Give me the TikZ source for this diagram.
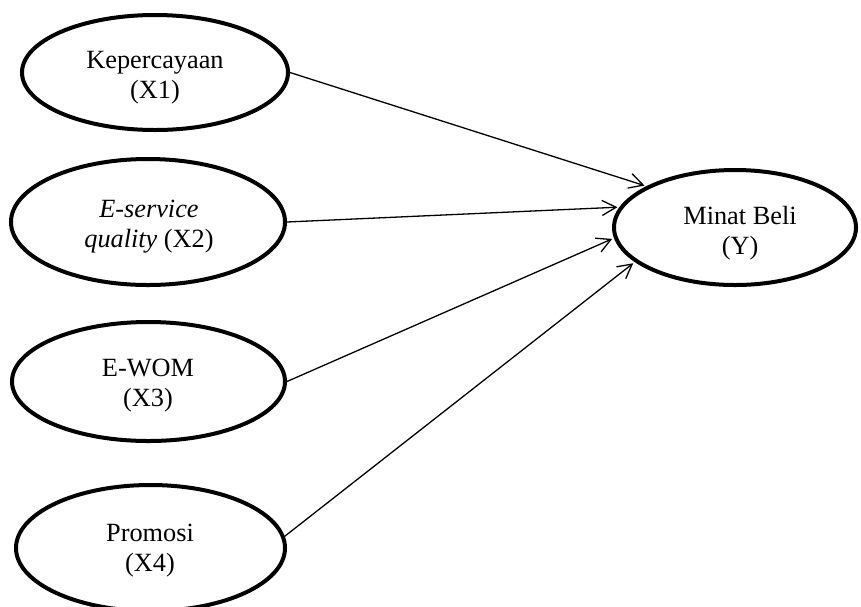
\documentclass[tikz,border=0pt]{standalone}
\usepackage{fontspec}
\setmainfont{Liberation Serif}
\usetikzlibrary{shapes.geometric,arrows.meta}
\begin{document}
\begin{tikzpicture}[x=0.5pt,y=-0.5pt,
  latent/.style={ellipse,draw,line width=2pt,inner sep=0pt},
  lbl/.style={align=center,font=\fontsize{13.15}{15}\selectfont,inner sep=0pt},
  conn/.style={line width=0.65pt,shorten >=1pt,-{Straight Barb[length=7pt,width=7.5pt]}}]
\useasboundingbox (0,0) rectangle (861,606);
\node[latent,minimum width=133pt,minimum height=57.5pt] (x1) at (155,72.5) {};
\node[latent,minimum width=137pt,minimum height=63pt] (x2) at (148,222) {};
\node[latent,minimum width=136.5pt,minimum height=59.5pt] (x3) at (148.5,381.5) {};
\node[latent,minimum width=134.5pt,minimum height=63pt] (x4) at (150.5,548) {};
\node[latent,minimum width=121pt,minimum height=57.5pt] (y) at (735,227.5) {};
\node[lbl] (x1t) at (155,78) {Kepercayaan\\(X1)};
\node[lbl] (x2t) at (149,227) {\textit{E-service}\\\textit{quality} (X2)};
\node[lbl] (x3t) at (148,386) {E-WOM\\(X3)};
\node[lbl] (x4t) at (150,551) {Promosi\\(X4)};
\node[lbl] (yt) at (740,233) {Minat Beli\\(Y)};
\draw[conn] (x1.east) -- (y.155.6);
\draw[conn] (x2.east) -- (y.170);
\draw[conn] (x3.east) -- (y.185.6);
\draw[conn] (x4.5) -- (y.199);
\end{tikzpicture}
\end{document}
